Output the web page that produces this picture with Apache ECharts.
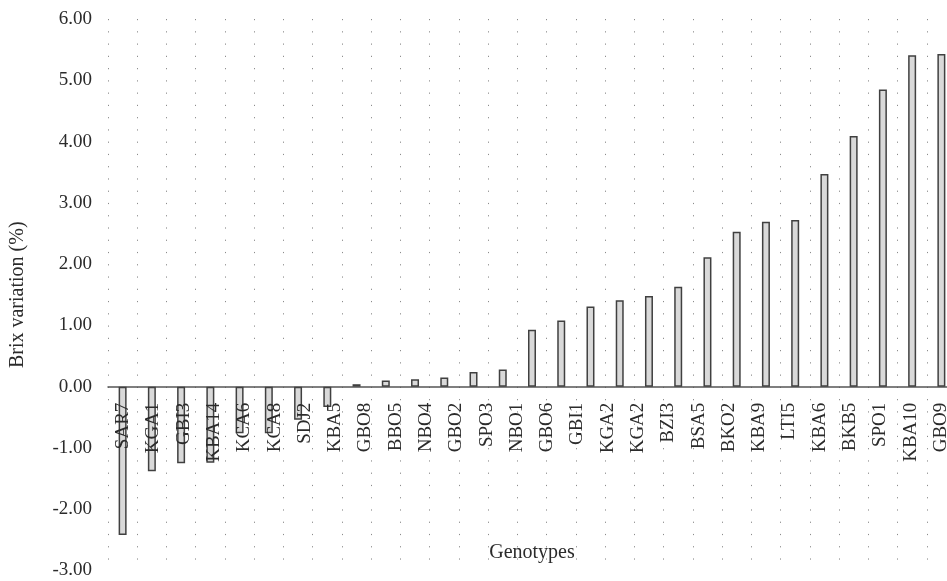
<!DOCTYPE html>
<html>
<head>
<meta charset="utf-8">
<title>Brix variation by genotype</title>
<script src="https://cdn.jsdelivr.net/npm/echarts@6/dist/echarts.min.js"></script>
<style>
    html, body { margin: 0; padding: 0; background: #fff; }
    #chart { width: 947px; height: 581px; }
</style>
</head>
<body>
<div id="chart"></div>
<script>
    // genotype labels as printed under the axis (28 of them)
    var genotypes = ['SAR7', 'KGA1', 'GBI3', 'KBA14', 'KCA6', 'KCA8', 'SDJ2', 'KBA5', 'GBO8', 'BBO5',
        'NBO4', 'GBO2', 'SPO3', 'NBO1', 'GBO6', 'GBI1', 'KGA2', 'KGA2', 'BZI3', 'BSA5',
        'BKO2', 'KBA9', 'LTI5', 'KBA6', 'BKB5', 'SPO1', 'KBA10', 'GBO9'];

    // bar heights, left to right (the plot holds 29 bars)
    var brixVariation = [-2.42, -1.38, -1.25, -1.24, -0.76, -0.76, -0.54, -0.33, 0.04, 0.10,
        0.12, 0.15, 0.24, 0.28, 0.93, 1.08, 1.31, 1.41, 1.48, 1.63,
        2.11, 2.53, 2.69, 2.72, 3.47, 4.09, 4.85, 5.41, 5.43];

    var yTicks = { min: -3, max: 6, step: 1 };

    var FONT = 'Liberation Serif';
    var TEXT = '#2b2b2b';

    var barSlots = brixVariation.map(function (v, i) { return String(i); });

    var chart = echarts.init(document.getElementById('chart'), null, { renderer: 'canvas' });

    var GRID_TOP = 19, GRID_BOTTOM = 10.5;
    var plotH = 581 - GRID_TOP - GRID_BOTTOM;
    // distance from the bottom edge of the plot up to the zero line
    var zeroLift = plotH * (0 - yTicks.min) / (yTicks.max - yTicks.min);

    chart.setOption({
        backgroundColor: '#fff',
        animation: false,
        grid: { left: 108, right: -9, top: GRID_TOP, bottom: GRID_BOTTOM, outerBoundsMode: 'none', containLabel: false },
        xAxis: [
            {
                type: 'category', data: barSlots, position: 'bottom',
                axisLine: { onZero: true, lineStyle: { color: '#555', width: 1.5 } },
                axisTick: { show: false },
                axisLabel: { show: false },
                splitLine: {
                    show: true,
                    lineStyle: { color: '#8c8c8c', width: 1, type: [1.2, 11.06] }
                }
            },
            {
                // label-only axis: 28 names spread over the same width, lifted to the zero line
                type: 'category', data: genotypes, position: 'bottom', offset: -zeroLift, z: 5,
                axisLine: { onZero: false, show: false },
                axisTick: { show: false },
                splitLine: { show: false },
                axisLabel: {
                    interval: 0, rotate: 90, margin: 16,
                    fontFamily: FONT, fontSize: 19, color: TEXT
                },
                name: 'Genotypes', nameLocation: 'middle', nameGap: 156, nameMoveOverlap: false,
                nameTextStyle: { fontFamily: FONT, fontSize: 20, color: TEXT }
            }
        ],
        yAxis: {
            type: 'value',
            min: yTicks.min, max: yTicks.max, interval: yTicks.step,
            axisLine: { show: false },
            axisTick: { show: false },
            splitLine: { show: false },
            axisLabel: {
                margin: 16, fontFamily: FONT, fontSize: 19, color: TEXT,
                formatter: function (v) { return v.toFixed(2); }
            },
            name: 'Brix variation (%)', nameLocation: 'middle', nameGap: 80,
            nameTextStyle: { fontFamily: FONT, fontSize: 20, color: TEXT }
        },
        series: [
            {
                type: 'bar', xAxisIndex: 0,
                data: brixVariation,
                barWidth: 8,
                itemStyle: { color: '#d9d9d9', borderColor: '#404040', borderWidth: 1.5 }
            }
        ]
    });
</script>
</body>
</html>
